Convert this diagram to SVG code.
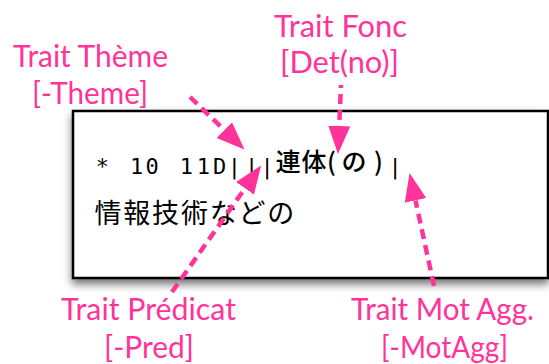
<svg xmlns="http://www.w3.org/2000/svg" width="549" height="364" viewBox="0 0 549 364">
  <defs>
    <filter id="shadow" x="-10%" y="-10%" width="130%" height="140%">
      <feDropShadow dx="0" dy="5" stdDeviation="4" flood-color="#000" flood-opacity="0.55"/>
    </filter>
    <marker id="ah" markerUnits="userSpaceOnUse" markerWidth="30" markerHeight="24" refX="0" refY="11" orient="auto">
      <path d="M0,0 L28,11 L0,22 Z" fill="#FF3399"/>
    </marker>
    <style>
      .lbl { font-family: Lato, "Open Sans", "Liberation Sans", sans-serif; font-size: 30px; fill: #FF3399; text-anchor: middle; }
      .mono { font-family: "DejaVu Sans Mono", "Liberation Mono", monospace; font-size: 22px; fill: #000; text-anchor: middle; }
      .cjk { font-family: "Noto Sans CJK JP", sans-serif; fill: #000; text-anchor: middle; }
      .conn { fill: none; stroke: #FF3399; stroke-width: 4.5; stroke-dasharray: 10 6; }
    </style>
  </defs>
  <rect width="549" height="364" fill="#fff"/>

  <g id="box">
    <rect x="73" y="111" width="475" height="167" fill="#fff" stroke="#000" stroke-width="2.5" filter="url(#shadow)"/>
    <text class="mono" x="102.3 119 136.7 152 169 186.3 203.3 219.7 234.3 251.7 267" y="174">* 10 11D|||</text>
    <text class="cjk" font-size="25" font-weight="500" x="288.3 314 331.5 354 378.5" y="171">連体(の)</text>
    <text class="mono" x="395" y="174">|</text>
    <text class="cjk" font-size="27" x="108 136.8 165.6 194.4 223.2 252 280.8" y="223">情報技術などの</text>
  </g>

  <g id="label-theme">
    <text class="lbl" x="90.5" y="66.5" textLength="155" lengthAdjust="spacingAndGlyphs">Trait Thème</text>
    <text class="lbl" x="90" y="104" textLength="116" lengthAdjust="spacingAndGlyphs">[-Theme]</text>
  </g>
  <g id="label-fonc">
    <text class="lbl" x="340.5" y="37" textLength="133" lengthAdjust="spacingAndGlyphs">Trait Fonc</text>
    <text class="lbl" x="339.5" y="73" textLength="119" lengthAdjust="spacingAndGlyphs">[Det(no)]</text>
  </g>
  <g id="label-pred">
    <text class="lbl" x="148.5" y="320" textLength="175" lengthAdjust="spacingAndGlyphs">Trait Prédicat</text>
    <text class="lbl" x="149" y="357.5" textLength="90" lengthAdjust="spacingAndGlyphs">[-Pred]</text>
  </g>
  <g id="label-motagg">
    <text class="lbl" x="442.5" y="320" textLength="183" lengthAdjust="spacingAndGlyphs">Trait Mot Agg.</text>
    <text class="lbl" x="444.5" y="357.5" textLength="127" lengthAdjust="spacingAndGlyphs">[-MotAgg]</text>
  </g>

  <g id="connectors">
    <path class="conn" d="M190,97 L224.3,130" marker-end="url(#ah)"/>
    <path class="conn" d="M341,85 L339.2,126" stroke-dashoffset="7" marker-end="url(#ah)"/>
    <path class="conn" d="M172,292 L245,188.3" marker-end="url(#ah)"/>
    <path class="conn" d="M434,286 L415.5,200.4" marker-end="url(#ah)"/>
  </g>
</svg>
